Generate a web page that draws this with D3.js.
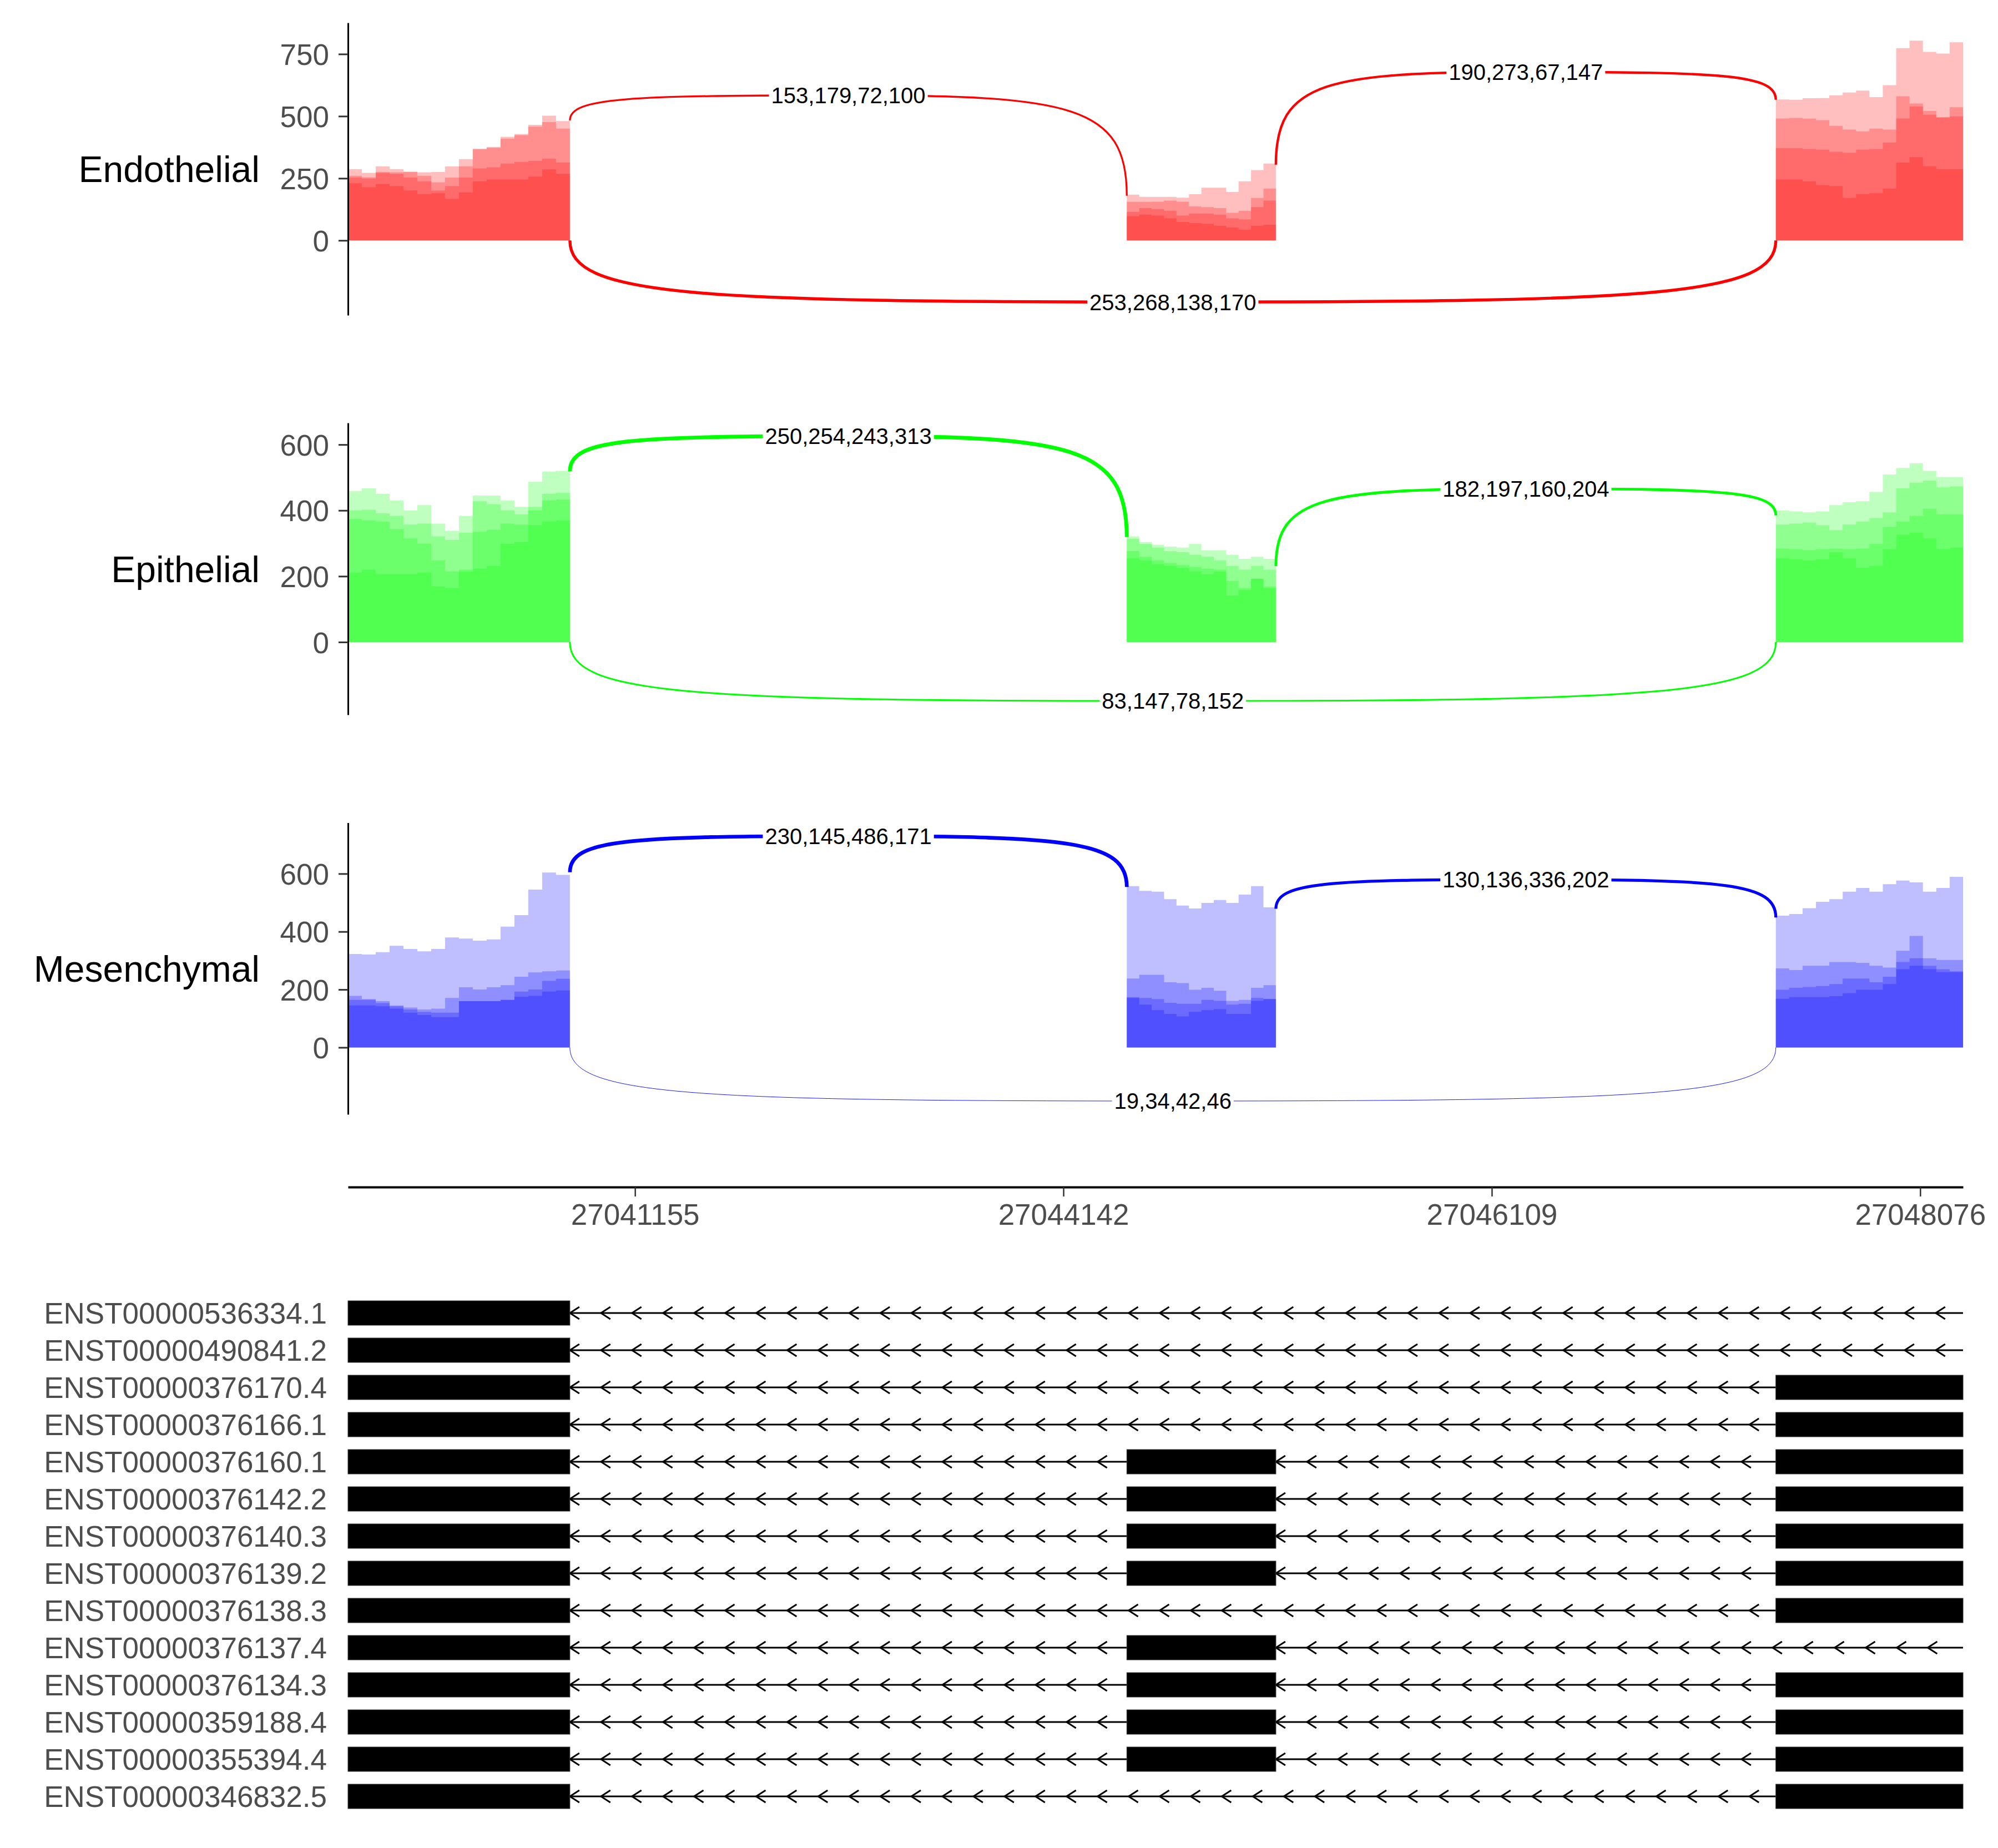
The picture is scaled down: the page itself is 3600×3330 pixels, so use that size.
<!DOCTYPE html>
<html><head><meta charset="utf-8">
<script src="https://cdn.jsdelivr.net/npm/d3@7"></script>
<style>
body{margin:0;background:#fff}
text{font-family:"Liberation Sans",Arial,Helvetica,sans-serif}
</style>
</head><body><svg id="c" width="3600" height="3330"></svg>
<script>
// ---------------- data ----------------
const groups = ["Endothelial", "Epithelial", "Mesenchymal"];
const groupColors = ["#ff0000", "#00ff00", "#0000ff"];
const tickPositions = [1000, 2000, 3000, 4000];
const tickLabels = ["27041155", "27044142", "27046109", "27048076"];
const regionRange = [330, 4100];
const exons = [[330, 848], [2148, 2496], [3663, 4100]];
const yTicks = [[0, 250, 500, 750], [0, 200, 400, 600], [0, 200, 400, 600]];
const yDomains = [[-301, 876], [-221, 666], [-231, 776]];

// coverage: 4 samples per exon
const endoExon1 = [
  [287, 272, 298, 287, 277, 274, 275, 298, 327, 368, 376, 417, 428, 465, 502, 480],
  [260, 254, 275, 274, 275, 260, 234, 253, 298, 368, 373, 409, 424, 458, 476, 450],
  [253, 249, 272, 268, 253, 238, 201, 219, 253, 290, 294, 309, 316, 320, 329, 314],
  [230, 214, 227, 219, 201, 186, 190, 167, 193, 238, 245, 245, 245, 257, 286, 268]];
const endoExon2 = [
  [184, 175, 175, 175, 172, 186, 212, 212, 195, 238, 283, 309],
  [155, 155, 156, 160, 156, 137, 134, 130, 111, 119, 171, 208],
  [115, 130, 126, 119, 100, 108, 108, 104, 89, 85, 134, 160],
  [97, 104, 100, 89, 74, 70, 67, 59, 52, 43, 59, 63]];
const endoExon3 = [
  [567, 566, 572, 573, 584, 595, 603, 577, 625, 774, 804, 759, 752, 797],
  [491, 493, 490, 484, 461, 446, 439, 450, 446, 580, 551, 521, 495, 536],
  [372, 372, 368, 365, 357, 353, 365, 368, 394, 491, 539, 506, 495, 499],
  [245, 245, 238, 223, 219, 171, 186, 190, 208, 313, 335, 298, 287, 287]];
const epiExon1 = [
  [459, 467, 450, 430, 400, 416, 360, 338, 383, 445, 445, 430, 411, 487, 518, 520],
  [400, 402, 391, 383, 357, 360, 321, 310, 332, 428, 419, 400, 388, 411, 450, 453],
  [374, 369, 366, 343, 315, 299, 248, 214, 220, 335, 341, 360, 357, 400, 430, 433],
  [211, 220, 206, 206, 206, 211, 169, 164, 214, 223, 231, 298, 304, 355, 366, 369]];
const epiExon2 = [
  [321, 304, 296, 290, 287, 298, 279, 279, 265, 253, 259, 253],
  [314, 298, 287, 276, 273, 265, 259, 248, 231, 220, 231, 220],
  [276, 259, 248, 240, 234, 228, 223, 220, 186, 164, 192, 169],
  [254, 248, 237, 231, 225, 214, 206, 214, 141, 158, 192, 164]];
const epiExon3 = [
  [400, 397, 394, 397, 416, 425, 428, 456, 509, 529, 543, 520, 501, 501],
  [357, 360, 363, 355, 340, 357, 366, 377, 394, 467, 484, 490, 470, 473],
  [284, 282, 279, 282, 284, 282, 284, 298, 349, 366, 383, 405, 388, 388],
  [254, 251, 248, 251, 273, 254, 226, 231, 282, 326, 332, 315, 282, 287]];
const mesExon1 = [
  [323, 321, 329, 351, 340, 332, 340, 380, 376, 369, 373, 417, 457, 545, 604, 596],
  [178, 167, 160, 145, 138, 131, 134, 171, 208, 200, 208, 215, 244, 259, 263, 266],
  [164, 164, 153, 142, 131, 123, 120, 120, 160, 160, 160, 164, 193, 200, 230, 237],
  [145, 145, 142, 134, 120, 112, 105, 105, 160, 160, 160, 164, 175, 178, 193, 197]];
const mesExon2 = [
  [557, 541, 538, 512, 490, 480, 499, 509, 499, 528, 557, 484],
  [238, 251, 251, 225, 222, 199, 206, 196, 161, 164, 206, 215],
  [174, 171, 167, 154, 151, 151, 164, 161, 148, 151, 171, 167],
  [171, 148, 129, 116, 107, 123, 129, 132, 116, 116, 161, 167]];
const mesExon3 = [
  [455, 461, 481, 503, 512, 538, 551, 538, 564, 576, 570, 538, 551, 589],
  [273, 267, 282, 282, 295, 295, 292, 282, 276, 334, 385, 308, 302, 302],
  [199, 206, 209, 212, 219, 238, 238, 225, 244, 295, 308, 282, 270, 263],
  [168, 174, 174, 174, 177, 187, 199, 199, 219, 270, 282, 270, 260, 260]];

// junctions: donor exon, acceptor exon, counts, coverage at ends, label height
const endoJunctions = [
  {from: 0, to: 1, counts: [153, 179, 72, 100], yStart: 483, yEnd: 180, yMid: 584},
  {from: 1, to: 2, counts: [190, 273, 67, 147], yStart: 305, yEnd: 566, yMid: 678},
  {from: 0, to: 2, counts: [253, 268, 138, 170], yStart: 0, yEnd: 0, yMid: -248}];
const epiJunctions = [
  {from: 0, to: 1, counts: [250, 254, 243, 313], yStart: 519, yEnd: 319, yMid: 626},
  {from: 1, to: 2, counts: [182, 197, 160, 204], yStart: 231, yEnd: 385, yMid: 466},
  {from: 0, to: 2, counts: [83, 147, 78, 152], yStart: 0, yEnd: 0, yMid: -179}];
const mesJunctions = [
  {from: 0, to: 1, counts: [230, 145, 486, 171], yStart: 605, yEnd: 554, yMid: 730},
  {from: 1, to: 2, counts: [130, 136, 336, 202], yStart: 479, yEnd: 449, yMid: 580},
  {from: 0, to: 2, counts: [19, 34, 42, 46], yStart: 0, yEnd: 0, yMid: -185}];

const transcripts = ["ENST00000536334.1", "ENST00000490841.2", "ENST00000376170.4", "ENST00000376166.1",
  "ENST00000376160.1", "ENST00000376142.2", "ENST00000376140.3", "ENST00000376139.2",
  "ENST00000376138.3", "ENST00000376137.4", "ENST00000376134.3", "ENST00000359188.4",
  "ENST00000355394.4", "ENST00000346832.5"];
const transcriptExons = [[0], [0], [0, 2], [0, 2], [0, 1, 2], [0, 1, 2], [0, 1, 2], [0, 1, 2],
  [0, 2], [0, 1], [0, 1, 2], [0, 1, 2], [0, 1, 2], [0, 2]];

const coverage = [[endoExon1, endoExon2, endoExon3], [epiExon1, epiExon2, epiExon3], [mesExon1, mesExon2, mesExon3]];
const junctions = [endoJunctions, epiJunctions, mesJunctions];

// ---------------- layout ----------------
const svg = d3.select("#c");
svg.append("rect").attr("width", 3600).attr("height", 3330).attr("fill", "#fff");
const x = d3.scaleLinear().domain(regionRange).range([627, 3537]);
const panelTop = [41, 762, 1482.5];
const panelBottom = [568, 1288, 2008];
const lwd = d3.scaleLinear().domain([0, 270]).range([0, 7]);

// rounded-corner half arc from (xa,ya) to apex (xm,ym)
function halfArc(xa, ya, xm, ym) {
  const p = d3.path();
  p.moveTo(xa, ya);
  p.bezierCurveTo(xa, ya + 0.9 * (ym - ya), xa + 0.2 * (xm - xa), ym, xm, ym);
  return p.toString();
}

groups.forEach((g, gi) => {
  const y = d3.scaleLinear().domain(yDomains[gi]).range([panelBottom[gi], panelTop[gi]]);
  const col = groupColors[gi];
  const gp = svg.append("g");

  // coverage
  const area = d3.area().curve(d3.curveStepAfter)
    .x(d => x(d[0])).y0(y(0)).y1(d => y(d[1]));
  coverage[gi].forEach((samples, ei) => {
    const [a, b] = exons[ei];
    samples.forEach(arr => {
      const n = arr.length;
      const pts = arr.map((v, i) => [a + i * (b - a) / n, v]);
      pts.push([b, arr[n - 1]]);
      gp.append("path").attr("d", area(pts)).attr("fill", col).attr("fill-opacity", 0.25);
    });
  });

  // junction arcs
  junctions[gi].forEach(j => {
    const x1 = x(exons[j.from][1]), x2 = x(exons[j.to][0]);
    const xm = (x1 + x2) / 2, ym = y(j.yMid);
    const y1 = y(j.yStart), y2 = y(j.yEnd);
    const w = lwd(d3.mean(j.counts));
    gp.append("path").attr("d", halfArc(x1, y1, xm, ym))
      .attr("fill", "none").attr("stroke", col).attr("stroke-width", w);
    gp.append("path").attr("d", halfArc(x2, y2, xm, ym))
      .attr("fill", "none").attr("stroke", col).attr("stroke-width", w);
    const lg = gp.append("g");
    const bg = lg.append("rect").attr("fill", "#fff");
    const t = lg.append("text").attr("x", xm).attr("y", ym).attr("dy", "0.36em")
      .attr("text-anchor", "middle").attr("font-size", 40).attr("fill", "#000")
      .text(j.counts.join(","));
    const bb = t.node().getBBox();
    bg.attr("x", bb.x - 4).attr("y", bb.y).attr("width", bb.width + 8).attr("height", bb.height);
  });

  // y axis
  const ax = gp.append("g").attr("transform", `translate(${x(regionRange[0])},0)`)
    .call(d3.axisLeft(y).tickValues(yTicks[gi]).tickSize(17).tickSizeOuter(0).tickPadding(17));
  ax.select(".domain").attr("stroke", "#000").attr("stroke-width", 3);
  ax.selectAll(".tick line").attr("stroke", "#333").attr("stroke-width", 3);
  ax.selectAll(".tick text").attr("font-size", 53).attr("fill", "#4d4d4d")
    .attr("font-family", '"Liberation Sans",Arial,sans-serif').attr("dy", "0.36em");

  // group label
  gp.append("text").attr("x", 468).attr("y", (panelTop[gi] + panelBottom[gi]) / 2)
    .attr("dy", "0.36em").attr("text-anchor", "end").attr("font-size", 66).attr("fill", "#000")
    .text(g);
});

// x axis
const xa = svg.append("g").attr("transform", "translate(0,2139)")
  .call(d3.axisBottom(x).tickValues(tickPositions).tickFormat((d, i) => tickLabels[i])
    .tickSize(17).tickSizeOuter(0).tickPadding(13));
xa.select(".domain").attr("stroke", "#000").attr("stroke-width", 4);
xa.selectAll(".tick line").attr("stroke", "#333").attr("stroke-width", 2.5);
xa.selectAll(".tick text").attr("font-size", 53).attr("fill", "#4d4d4d")
  .attr("font-family", '"Liberation Sans",Arial,sans-serif');

// transcripts
const ty = d3.scalePoint().domain(transcripts).range([2366, 3237]);
const boxH = 44, step = 55.93, armW = 17, armH = 11;
transcripts.forEach((tname, ti) => {
  const cy = ty(tname);
  const g = svg.append("g");
  const ex = transcriptExons[ti];
  const segs = [];
  for (let k = 0; k < ex.length; k++) {
    const start = x(exons[ex[k]][1]);
    const end = k + 1 < ex.length ? x(exons[ex[k + 1]][0]) : x(regionRange[1]);
    if (end > start + 1) segs.push([start, end]);
  }
  segs.forEach(([s, e]) => {
    g.append("line").attr("x1", s).attr("x2", e).attr("y1", cy).attr("y2", cy)
      .attr("stroke", "#000").attr("stroke-width", 3);
    for (let p = s; p + armW < e; p += step) {
      g.append("path").attr("d", `M${p + armW},${cy - armH}L${p},${cy}L${p + armW},${cy + armH}`)
        .attr("fill", "none").attr("stroke", "#000").attr("stroke-width", 3);
    }
  });
  ex.forEach(ei => {
    g.append("rect").attr("x", x(exons[ei][0])).attr("width", x(exons[ei][1]) - x(exons[ei][0]))
      .attr("y", cy - boxH / 2).attr("height", boxH).attr("fill", "#000")
      .attr("stroke", "#333").attr("stroke-width", 1);
  });
  g.append("text").attr("x", 589).attr("y", cy).attr("dy", "0.36em").attr("text-anchor", "end")
    .attr("font-size", 53).attr("fill", "#4d4d4d").text(tname);
});
</script>
</body></html>
